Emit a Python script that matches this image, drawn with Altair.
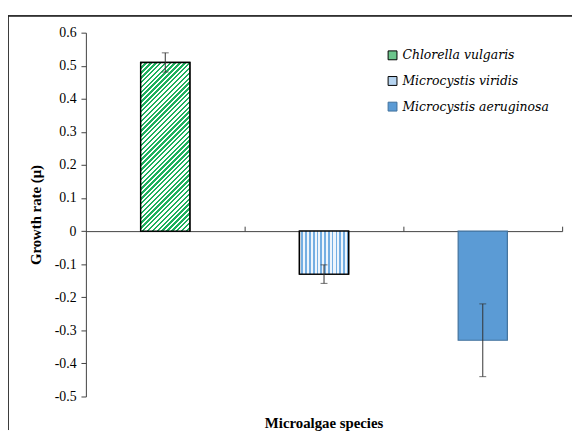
import math
import altair as alt
import pandas as pd

# ---- data ----
species = ["Chlorella vulgaris", "Microcystis viridis", "Microcystis aeruginosa"]
growth = [0.51, -0.13, -0.33]
error = [0.029, 0.028, 0.11]
y_ticks = [0.6, 0.5, 0.4, 0.3, 0.2, 0.1, 0.0, -0.1, -0.2, -0.3, -0.4, -0.5]

legend_fill = ["#6cc58c", "#b6d4f0", "#5B9BD5"]
legend_stroke = ["#000000", "#000000", "#41719C"]

df = pd.DataFrame({"species": species, "growth": growth, "err": error})
df["lo"] = df["growth"] - df["err"]
df["hi"] = df["growth"] + df["err"]

FONT = "Liberation Serif"
ITALIC_FONT = "DejaVu Serif Condensed, DejaVu Serif"
W, H = 483, 369
YMIN, YMAX = -0.5, 0.6
BAND = 0.31
ZERO_PX = YMAX / (YMAX - YMIN) * H


def stripes(c1, c2, n, frac, x2, y2):
    stops = []
    for i in range(n):
        a = i / n
        b = (i + frac) / n
        c = (i + 1) / n
        stops += [
            {"offset": a, "color": c1},
            {"offset": b, "color": c1},
            {"offset": b, "color": c2},
            {"offset": c, "color": c2},
        ]
    return {"gradient": "linear", "x1": 0, "y1": 0, "x2": x2, "y2": y2, "stops": stops}


# diagonal hatch for the first bar (45 degrees in pixel space)
bw = W / 3 * BAND
bh = growth[0] / (YMAX - YMIN) * H
r = bw / bh
gb = (1 + r) / (1 + r * r)
ga = r * gb
n_diag = round((bw + bh) / math.sqrt(2) / 3.5)
green_hatch = stripes("#1DAF5E", "#ffffff", n_diag, 0.5, ga, gb)

# vertical stripes for the second bar
blue_stripes = stripes("#eef5fc", "#74AEE2", 13, 0.55, 1, 0)

x_axis = alt.Axis(
    orient="top",
    offset=-ZERO_PX,
    labels=False,
    title=None,
    ticks=True,
    tickSize=5,
    bandPosition=1,
    domainColor="#404040",
    tickColor="#404040",
    grid=False,
)
x_scale = alt.Scale(paddingInner=0, paddingOuter=0)
y_scale = alt.Scale(domain=[YMIN, YMAX], nice=False, zero=False)
y_axis = alt.Axis(
    values=y_ticks,
    labelExpr="replace(format(datum.value, '.1~f'), '\u2212', '-')",
    labelOverlap=False,
    title="Growth rate (μ)",
    titleFont=FONT,
    titleFontSize=15,
    titleFontWeight="bold",
    titleColor="#000000",
    titlePadding=11,
    labelFont=FONT,
    labelFontSize=14,
    labelFontWeight="normal",
    labelColor="#000000",
    labelPadding=5,
    tickSize=5,
    tickColor="#404040",
    domainColor="#404040",
    grid=False,
)


def X():
    return alt.X("species:N", sort=species, scale=x_scale, axis=x_axis)


def Y(field):
    return alt.Y(field, scale=y_scale, axis=y_axis)


legend = alt.Legend(
    title=None,
    orient="none",
    legendX=304,
    legendY=16,
    symbolType="square",
    symbolSize=81,
    symbolStrokeWidth=1,
    labelFont=ITALIC_FONT,
    labelFontStyle="italic",
    labelFontSize=14,
    labelColor="#000000",
    labelOffset=3,
    labelLimit=300,
    rowPadding=12,
)

base = alt.Chart(df)

bars = base.mark_bar(width={"band": BAND}, strokeWidth=1.2).encode(
    x=X(),
    y=Y("growth:Q"),
    y2=alt.datum(0),
    color=alt.Color(
        "species:N",
        sort=species,
        scale=alt.Scale(domain=species, range=legend_fill),
        legend=legend,
    ),
    stroke=alt.Stroke(
        "species:N",
        sort=species,
        scale=alt.Scale(domain=species, range=legend_stroke),
        legend=legend,
    ),
)

hatch1 = (
    base.transform_filter(alt.datum.species == species[0])
    .mark_bar(width={"band": BAND}, fill=green_hatch, stroke="#000000", strokeWidth=1.5)
    .encode(x=X(), y=Y("growth:Q"), y2=alt.datum(0))
)
hatch2 = (
    base.transform_filter(alt.datum.species == species[1])
    .mark_bar(width={"band": BAND}, fill=blue_stripes, stroke="#000000", strokeWidth=1.5)
    .encode(x=X(), y=Y("growth:Q"), y2=alt.datum(0))
)

err_rule = base.mark_rule(color="#333333", strokeWidth=1).encode(
    x=X(), y=Y("lo:Q"), y2="hi:Q"
)
cap_lo = base.mark_tick(color="#333333", size=7, thickness=1).encode(
    x=X(), y=Y("lo:Q")
)
cap_hi = base.mark_tick(color="#333333", size=7, thickness=1).encode(
    x=X(), y=Y("hi:Q")
)

frame_left = base.mark_rule(color="#222222", strokeWidth=1).encode(
    x=alt.value(-79), y=alt.value(-17), y2=alt.value(H + 34)
)
frame_top = base.mark_rule(color="#222222", strokeWidth=1).encode(
    x=alt.value(-79), x2=alt.value(W + 40), y=alt.value(-17)
)

chart = (
    alt.layer(bars, hatch1, hatch2, err_rule, cap_lo, cap_hi, frame_left, frame_top)
    .properties(
        width=W,
        height=H,
        padding={"left": 79, "top": 22, "right": 10, "bottom": 34},
        autosize="none",
        title=alt.TitleParams(
            "Microalgae species",
            orient="bottom",
            frame="group",
            anchor="middle",
            font=FONT,
            fontSize=15,
            fontWeight="bold",
            color="#000000",
            offset=-15,
        ),
    )
    .configure(background="#ffffff", font=FONT)
    .configure_view(stroke=None)
)

chart.save("out.html", embed_options={"renderer": "svg", "actions": False})
